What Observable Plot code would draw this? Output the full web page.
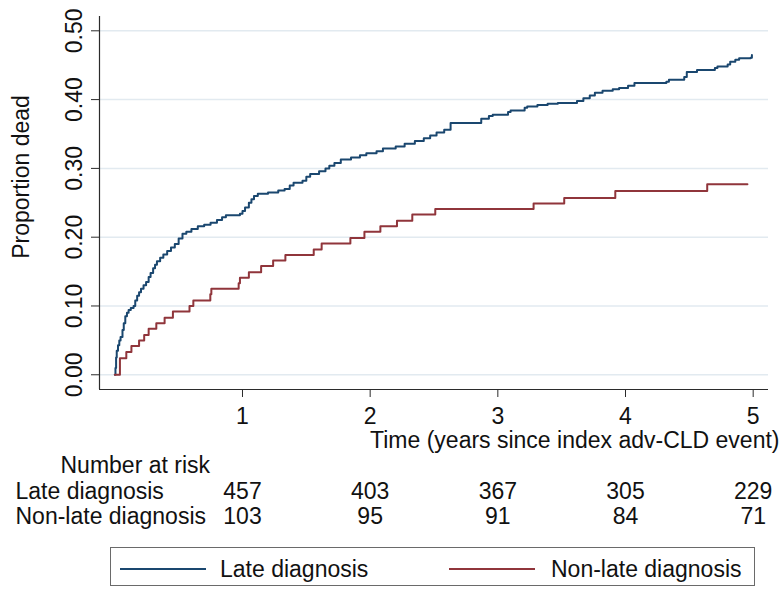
<!DOCTYPE html>
<html>
<head>
<meta charset="utf-8">
<script src="https://cdn.jsdelivr.net/npm/d3@7"></script>
<script src="https://cdn.jsdelivr.net/npm/@observablehq/plot@0.6"></script>
<style>
  html, body { margin: 0; padding: 0; background: #fff; }
  body { width: 782px; height: 590px; overflow: hidden; font-family: "Liberation Sans", Arial, sans-serif; }
  #legend { position: relative; margin: 7px 0 0 110px; width: 643px; height: 37px; border: 1px solid #6a6a6a; }
  #legend .sw { position: absolute; top: 20px; height: 2px; width: 86px; }
  #legend .lb { position: absolute; top: 0; line-height: 42px; font-size: 23px; color: #111; white-space: nowrap; }
</style>
</head>
<body>
<div id="chart"></div>
<div id="legend"></div>
<script>
// ---- data ----
const seriesNames = ["Late diagnosis", "Non-late diagnosis"];
const seriesColors = ["#1a476f", "#90353b"];

const lateTime = [0, 0.005, 0.01, 0.015, 0.025, 0.035, 0.045, 0.06, 0.07, 0.082, 0.095, 0.108, 0.125, 0.147, 0.16, 0.175, 0.19, 0.205, 0.225, 0.245, 0.265, 0.28, 0.3, 0.315, 0.33, 0.355, 0.38, 0.41, 0.44, 0.47, 0.5, 0.53, 0.56, 0.6, 0.65, 0.7, 0.75, 0.8, 0.84, 0.87, 0.98, 1.0, 1.02, 1.05, 1.07, 1.09, 1.12, 1.2, 1.28, 1.33, 1.37, 1.4, 1.47, 1.5, 1.53, 1.6, 1.65, 1.68, 1.72, 1.77, 1.85, 1.92, 1.97, 2.05, 2.1, 2.2, 2.27, 2.35, 2.42, 2.47, 2.52, 2.58, 2.63, 2.87, 2.93, 2.96, 3.08, 3.1, 3.21, 3.23, 3.31, 3.39, 3.47, 3.62, 3.67, 3.72, 3.76, 3.82, 3.9, 3.95, 4.02, 4.07, 4.32, 4.34, 4.46, 4.48, 4.56, 4.7, 4.72, 4.8, 4.82, 4.86, 4.89, 4.98, 4.99];
const lateProp = [0, 0.01, 0.025, 0.035, 0.043, 0.05, 0.055, 0.065, 0.075, 0.085, 0.09, 0.094, 0.097, 0.1, 0.108, 0.115, 0.12, 0.125, 0.13, 0.135, 0.142, 0.148, 0.155, 0.16, 0.165, 0.17, 0.175, 0.18, 0.185, 0.19, 0.198, 0.205, 0.208, 0.212, 0.216, 0.218, 0.221, 0.225, 0.229, 0.232, 0.234, 0.238, 0.243, 0.25, 0.255, 0.26, 0.263, 0.265, 0.268, 0.27, 0.275, 0.279, 0.282, 0.288, 0.292, 0.296, 0.3, 0.304, 0.308, 0.313, 0.316, 0.319, 0.322, 0.325, 0.329, 0.332, 0.336, 0.34, 0.344, 0.348, 0.352, 0.356, 0.366, 0.372, 0.376, 0.378, 0.382, 0.384, 0.388, 0.39, 0.392, 0.394, 0.395, 0.398, 0.402, 0.406, 0.41, 0.413, 0.415, 0.417, 0.42, 0.424, 0.426, 0.429, 0.433, 0.44, 0.443, 0.446, 0.448, 0.451, 0.455, 0.458, 0.46, 0.461, 0.465];

const nonLateTime = [0, 0.04, 0.09, 0.13, 0.19, 0.23, 0.265, 0.325, 0.39, 0.455, 0.585, 0.615, 0.748, 0.756, 0.97, 0.98, 1.05, 1.146, 1.24, 1.336, 1.558, 1.62, 1.845, 1.955, 2.08, 2.21, 2.33, 2.51, 3.28, 3.52, 3.92, 4.64, 4.955];
const nonLateProp = [0, 0.024, 0.033, 0.042, 0.05, 0.058, 0.067, 0.075, 0.083, 0.092, 0.1, 0.108, 0.117, 0.125, 0.133, 0.141, 0.149, 0.158, 0.166, 0.174, 0.182, 0.191, 0.199, 0.208, 0.216, 0.224, 0.233, 0.241, 0.249, 0.257, 0.267, 0.277, 0.277];

const xTicks = [1, 2, 3, 4, 5];
const yTicks = [0, 0.1, 0.2, 0.3, 0.4, 0.5];
const riskTimes = [1, 2, 3, 4, 5];
const riskLate = [457, 403, 367, 305, 229];
const riskNonLate = [103, 95, 91, 84, 71];
const riskTitle = "Number at risk";
const xLabel = "Time (years since index adv-CLD event)";
const yLabel = "Proportion dead";

// ---- build tables ----
const lateData = lateTime.map((t, i) => ({t, p: lateProp[i]}));
const nonLateData = nonLateTime.map((t, i) => ({t, p: nonLateProp[i]}));
const riskLateData = riskTimes.map((t, i) => ({t, n: riskLate[i]}));
const riskNonLateData = riskTimes.map((t, i) => ({t, n: riskNonLate[i]}));

const xDomain = [-0.12, 5.12];
const yDomain = [-0.0214, 0.5208];
const FS = 23;
const axisColor = "#2b2b2b";

const chart = Plot.plot({
  width: 782,
  height: 540,
  marginLeft: 99,
  marginRight: 14,
  marginTop: 16,
  marginBottom: 151,
  style: {fontFamily: "'Liberation Sans', Arial, sans-serif", fontSize: "23px", background: "#fff", color: "#111", overflow: "visible"},
  x: {domain: xDomain},
  y: {domain: yDomain},
  marks: [
    Plot.gridY(yTicks, {stroke: "#e2eaf0", strokeOpacity: 1, strokeWidth: 1.5}),
    Plot.ruleY([yDomain[0]], {stroke: axisColor, strokeWidth: 1.2}),
    Plot.ruleX([xDomain[0]], {stroke: axisColor, strokeWidth: 1.2}),
    Plot.axisX(xTicks, {tickSize: 8, tickPadding: 10, tickFormat: d => String(d), label: null, fontSize: FS, stroke: axisColor, fill: "#111"}),
    Plot.axisY(yTicks, {tickSize: 8, tickPadding: 10, tickRotate: -90, tickFormat: d => d.toFixed(2), label: null, fontSize: FS, stroke: axisColor, fill: "#111"}),
    Plot.line(lateData, {x: "t", y: "p", curve: "step-after", stroke: seriesColors[0], strokeWidth: 2}),
    Plot.line(nonLateData, {x: "t", y: "p", curve: "step-after", stroke: seriesColors[1], strokeWidth: 2}),
    // axis titles
    Plot.text([xLabel], {text: d => d, frameAnchor: "bottom-right", textAnchor: "end", lineAnchor: "top", dx: 11, dy: 42, fontSize: FS, fill: "#111"}),
    Plot.text([yLabel], {text: d => d, frameAnchor: "left", textAnchor: "middle", lineAnchor: "middle", rotate: -90, dx: -78, dy: -26, fontSize: FS, fill: "#111"}),
    // risk table
    Plot.text([riskTitle], {text: d => d, frameAnchor: "bottom-left", textAnchor: "start", dx: -39, dy: 83, fontSize: FS, fill: "#111"}),
    Plot.text([seriesNames[0]], {text: d => d, frameAnchor: "bottom-left", textAnchor: "start", dx: -84, dy: 109, fontSize: FS, fill: "#111"}),
    Plot.text([seriesNames[1]], {text: d => d, frameAnchor: "bottom-left", textAnchor: "start", dx: -84, dy: 134, fontSize: FS, fill: "#111"}),
    Plot.text(riskLateData, {x: "t", text: d => String(d.n), frameAnchor: "bottom", textAnchor: "middle", dy: 109, fontSize: FS, fill: "#111"}),
    Plot.text(riskNonLateData, {x: "t", text: d => String(d.n), frameAnchor: "bottom", textAnchor: "middle", dy: 134, fontSize: FS, fill: "#111"})
  ]
});
document.getElementById("chart").appendChild(chart);

// ---- legend ----
const legend = document.getElementById("legend");
const swLeft = [9, 338];
const lbLeft = [109, 440];
seriesNames.forEach((name, i) => {
  const sw = document.createElement("div");
  sw.className = "sw";
  sw.style.left = swLeft[i] + "px";
  sw.style.background = seriesColors[i];
  legend.appendChild(sw);
  const lb = document.createElement("div");
  lb.className = "lb";
  lb.style.left = lbLeft[i] + "px";
  lb.textContent = name;
  legend.appendChild(lb);
});
</script>
</body>
</html>
